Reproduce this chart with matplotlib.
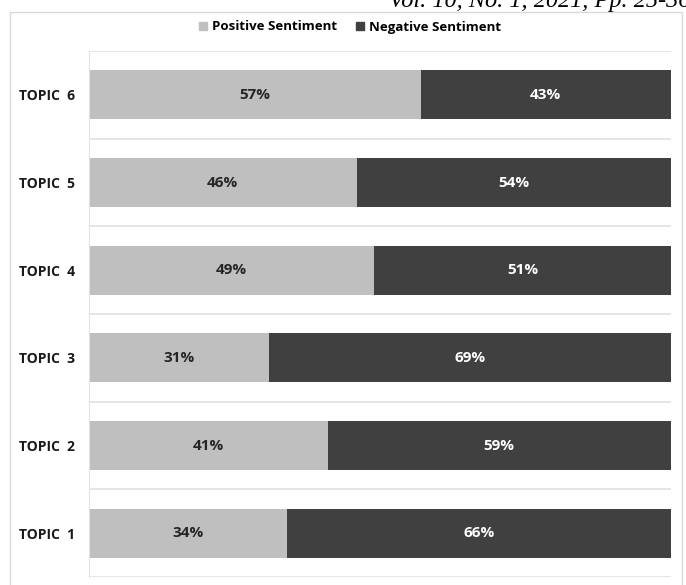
import matplotlib.pyplot as plt
from matplotlib.patches import Rectangle, Patch

# data
topics = ["TOPIC 1", "TOPIC 2", "TOPIC 3", "TOPIC 4", "TOPIC 5", "TOPIC 6"]
positive = [34, 41, 31, 49, 46, 57]
negative = [66, 59, 69, 51, 54, 43]

POS_COLOR = "#bfbfbf"
NEG_COLOR = "#404040"
FONT = "Open Sans"

fig = plt.figure(figsize=(6.86, 5.85), dpi=100)
W, H = 686, 585

# outer chart border
fig.patches.append(Rectangle((10 / W, -0.05), (682 - 10) / W, 1.05 - 12 / H,
                             transform=fig.transFigure, fill=False,
                             edgecolor="#d9d9d9", linewidth=1.0))

# page header, cut off at the top like in the source page
fig.text(690 / W, 1 - 7 / H, "Vol. 10, No. 1, 2021, Pp. 25-36", ha="right",
         va="baseline", family="Liberation Serif", style="italic", fontsize=17.5)

ax = fig.add_axes([89 / W, 1 - 577 / H, (671 - 89) / W, (577 - 51) / H])

y = range(len(topics))
ax.barh(y, positive, height=0.56, color=POS_COLOR, label="Positive Sentiment")
ax.barh(y, negative, left=positive, height=0.56, color=NEG_COLOR,
        label="Negative Sentiment")

for i, (p, n) in enumerate(zip(positive, negative)):
    ax.text(p / 2, i, f"{p}%", ha="center", va="center", color="#262626",
            fontsize=11, fontweight="bold", family=FONT)
    ax.text(p + n / 2, i, f"{n}%", ha="center", va="center", color="white",
            fontsize=11, fontweight="bold", family=FONT)

ax.set_xlim(0, 100)
ax.set_ylim(-0.5, len(topics) - 0.5)
ax.set_xticks([])
ax.set_yticks(list(y))
ax.set_yticklabels([t.replace(" ", "  ") for t in topics], fontsize=10,
                   fontweight="bold", family=FONT, color="#1a1a1a")
ax.tick_params(axis="y", length=0, pad=10)

# band separators
ax.set_yticks([i - 0.5 for i in range(len(topics) + 1)], minor=True)
ax.tick_params(axis="y", which="minor", length=0)
ax.grid(axis="y", which="minor", color="#e3e3e3", linewidth=1.3)
ax.set_axisbelow(True)

for s in ["top", "right", "bottom"]:
    ax.spines[s].set_visible(False)
ax.spines["left"].set_color("#e3e3e3")

handles = [Patch(color=POS_COLOR, label="Positive Sentiment"),
           Patch(color=NEG_COLOR, label="Negative Sentiment")]
fig.legend(handles=handles, loc="center", bbox_to_anchor=(350 / W, 1 - 27 / H),
           ncol=2, frameon=False, handlelength=0.6, handleheight=0.6,
           handletextpad=0.4, columnspacing=1.4,
           prop={"family": FONT, "weight": "bold", "size": 9.5})

fig.savefig("out.png", dpi=100)
